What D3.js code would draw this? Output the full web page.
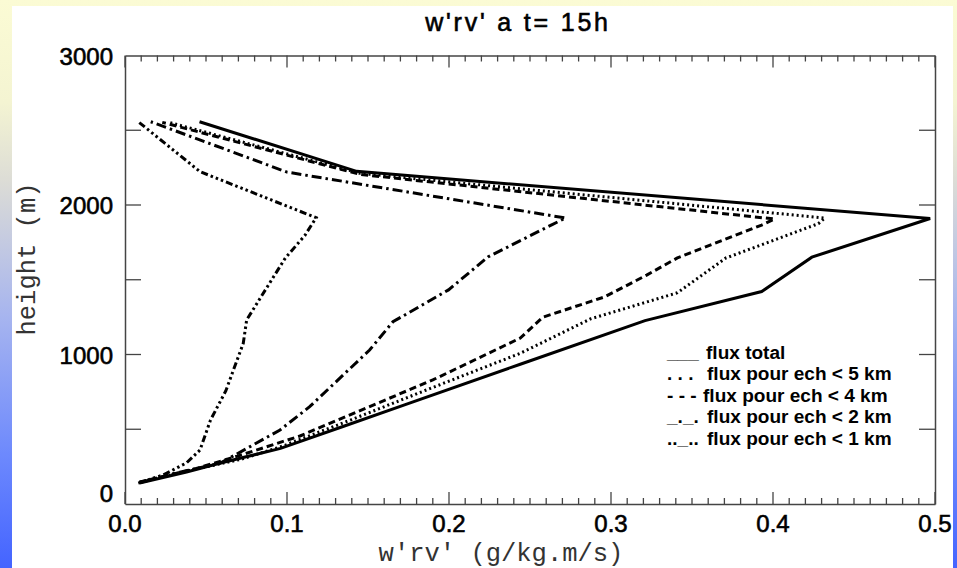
<!DOCTYPE html>
<html>
<head>
<meta charset="utf-8">
<script src="https://cdn.jsdelivr.net/npm/d3@7"></script>
<style>
  html, body { margin: 0; padding: 0; }
  body { width: 957px; height: 568px; overflow: hidden; }
  svg { display: block; }
</style>
</head>
<body>
<svg id="chart" width="957" height="568"></svg>
<script>
// Water vapour flux profiles w'rv' (g/kg.m/s) versus height (m), t = 15h
const fluxTotal = [
  [0.009, 140], [0.038, 214], [0.059, 274], [0.096, 372], [0.135, 520],
  [0.173, 665], [0.244, 935], [0.321, 1227], [0.393, 1421], [0.424, 1651],
  [0.497, 1910], [0.143, 2225], [0.046, 2557]
];
const flux5km = [
  [0.009, 145], [0.040, 225], [0.072, 300], [0.0975, 388], [0.140, 565],
  [0.1866, 765], [0.244, 1008], [0.2875, 1239], [0.341, 1413], [0.371, 1646],
  [0.428, 1875], [0.432, 1913], [0.145, 2212], [0.027, 2553]
];
const flux4km = [
  [0.009, 147], [0.043, 234], [0.070, 322], [0.108, 455], [0.190, 830],
  [0.244, 1110], [0.258, 1250], [0.296, 1385], [0.322, 1531], [0.341, 1646],
  [0.393, 1866], [0.401, 1906], [0.145, 2205], [0.023, 2553]
];
const flux2km = [
  [0.0087, 141], [0.032, 209], [0.0586, 272], [0.0957, 495], [0.114, 651],
  [0.151, 1030], [0.1654, 1219], [0.1997, 1432], [0.224, 1652], [0.2637, 1869],
  [0.272, 1913], [0.100, 2220], [0.0159, 2557]
];
const flux1km = [
  [0.0082, 140], [0.0235, 194], [0.038, 275], [0.0463, 361], [0.0528, 562],
  [0.0622, 756], [0.073, 1075], [0.0751, 1231], [0.0867, 1433], [0.099, 1646],
  [0.111, 1796], [0.118, 1915], [0.0463, 2223], [0.0082, 2557]
];

const seriesNames = [
  "flux total",
  "flux pour ech < 5 km",
  "flux pour ech < 4 km",
  "flux pour ech < 2 km",
  "flux pour ech < 1 km"
];
const legendGlyphs = ["___", ". . .", "- - -", "_._.", ".._.."];

const xTicks = [0.0, 0.1, 0.2, 0.3, 0.4, 0.5];
const yTicks = [0, 1000, 2000, 3000];

const titleText = "w'rv' a t= 15h";
const xTitle = "w'rv'  (g/kg.m/s)";
const yTitle = "height  (m)";

// ---- layout ----
const W = 957, H = 568;
const plot = { left: 125, right: 935, top: 55.5, bottom: 504 };

const svg = d3.select("#chart");

// page backdrop: pale yellow fading to blue
const defs = svg.append("defs");
const grad = defs.append("linearGradient")
  .attr("id", "bg").attr("x1", 0).attr("y1", 0).attr("x2", 0).attr("y2", 1);
[[0, "#fbfbd4"], [0.18, "#f4f4d2"], [0.32, "#dcdcd6"], [0.56, "#a6b4ef"],
 [0.8, "#6d89fd"], [1, "#4464ff"]].forEach(([o, c]) =>
  grad.append("stop").attr("offset", o).attr("stop-color", c));

svg.append("rect").attr("width", W).attr("height", H).attr("fill", "url(#bg)");
svg.append("rect").attr("x", 12).attr("y", 6).attr("width", 941).attr("height", H - 6)
  .attr("fill", "#ffffff");

const x = d3.scaleLinear().domain([0, 0.5]).range([plot.left, plot.right]);
const y = d3.scaleLinear().domain([0, 3000]).range([plot.bottom, plot.top]);

const axisColor = "#444";
const tickFont = "'Liberation Sans', Arial, Helvetica, sans-serif";
const monoFont = "'Liberation Mono', 'Courier New', monospace";

// x axes (bottom and top) with inward ticks
const minorX = d3.range(0, 51).map(i => i / 100).filter(v => Math.round(v * 100) % 10 !== 0);
function drawXAxis(yPos, dir) {
  const g = svg.append("g").attr("transform", `translate(0,${yPos})`);
  g.call(d3.axisBottom(x).tickValues(xTicks).tickSize(0).tickFormat(""))
    .call(s => s.select(".domain").attr("stroke", axisColor).attr("stroke-width", 1.5));
  g.selectAll(".major").data(xTicks).join("line")
    .attr("x1", d => x(d)).attr("x2", d => x(d))
    .attr("y1", 0).attr("y2", dir * 12)
    .attr("stroke", axisColor).attr("stroke-width", 1.3);
  g.selectAll(".minor").data(minorX).join("line")
    .attr("x1", d => x(d)).attr("x2", d => x(d))
    .attr("y1", 0).attr("y2", dir * 6)
    .attr("stroke", axisColor).attr("stroke-width", 1.3);
  return g;
}
drawXAxis(plot.bottom, -1);
drawXAxis(plot.top, 1);

// y axes (left and right), ticks every 500 m
const yTickAll = d3.range(0, 3001, 500);
function drawYAxis(xPos, dir) {
  const g = svg.append("g").attr("transform", `translate(${xPos},0)`);
  g.call(d3.axisLeft(y).tickValues(yTicks).tickSize(0).tickFormat(""))
    .call(s => s.select(".domain").attr("stroke", axisColor).attr("stroke-width", 1.5));
  g.selectAll(".tk").data(yTickAll.filter(v => v > 0 && v < 3000)).join("line")
    .attr("x1", 0).attr("x2", dir * 16)
    .attr("y1", d => y(d)).attr("y2", d => y(d))
    .attr("stroke", axisColor).attr("stroke-width", 1.3);
}
drawYAxis(plot.left, 1);
drawYAxis(plot.right, -1);

// tick labels (slightly thickened strokes)
svg.append("g").selectAll("text").data(xTicks).join("text")
  .attr("x", d => x(d)).attr("y", 532)
  .attr("text-anchor", "middle")
  .attr("font-family", tickFont).attr("font-size", 24).attr("fill", "#000")
  .attr("stroke", "#000").attr("stroke-width", 0.6)
  .text(d => d.toFixed(1));

svg.append("g").selectAll("text").data(yTicks).join("text")
  .attr("x", 113).attr("y", d => y(d) + (d === 0 ? -2 : 9))
  .attr("text-anchor", "end")
  .attr("font-family", tickFont).attr("font-size", 24).attr("fill", "#000")
  .attr("stroke", "#000").attr("stroke-width", 0.6)
  .text(d => d);

// titles
svg.append("text").attr("x", 518).attr("y", 31).attr("text-anchor", "middle")
  .attr("font-family", tickFont).attr("font-size", 25).attr("letter-spacing", 2.8)
  .attr("fill", "#000").attr("stroke", "#000").attr("stroke-width", 0.6)
  .text(titleText);

svg.append("text").attr("x", 501).attr("y", 561).attr("text-anchor", "middle")
  .attr("font-family", monoFont)
  .attr("font-size", 25.5).attr("fill", "#333").text(xTitle);

svg.append("text").attr("transform", "translate(35,259) rotate(-90)")
  .attr("text-anchor", "middle")
  .attr("font-family", monoFont)
  .attr("font-size", 25.5).attr("fill", "#333").text(yTitle);

// profiles
const line = d3.line().x(d => x(d[0])).y(d => y(d[1]));
const styles = [
  { dash: null, width: 3 },
  { dash: "2,3", width: 3 },
  { dash: "7,4", width: 3 },
  { dash: "10,4,2.5,4", width: 3 },
  { dash: "7,3,2.5,3,2.5,3,2.5,3", width: 3 }
];
const allSeries = [fluxTotal, flux5km, flux4km, flux2km, flux1km];

svg.append("g").selectAll("path").data(allSeries).join("path")
  .attr("d", line)
  .attr("fill", "none")
  .attr("stroke", "#000")
  .attr("stroke-width", (d, i) => styles[i].width)
  .attr("stroke-dasharray", (d, i) => styles[i].dash)
  .attr("stroke-linejoin", "miter");

// legend (bold lettering)
const legendY = [359, 380, 401.5, 423, 445];
const labelX = [706, 707, 703, 707, 707];
const legend = svg.append("g").attr("font-family", tickFont)
  .attr("font-size", 18.5).attr("font-weight", "bold").attr("fill", "#000");
legend.selectAll(".glyph").data(legendGlyphs).join("text")
  .attr("transform", (d, i) => `translate(667,${legendY[i]}) scale(1.03,1)`)
  .text(d => d);
legend.selectAll(".label").data(seriesNames).join("text")
  .attr("transform", (d, i) => `translate(${labelX[i]},${legendY[i]}) scale(1.03,1)`)
  .text(d => d);
</script>
</body>
</html>
